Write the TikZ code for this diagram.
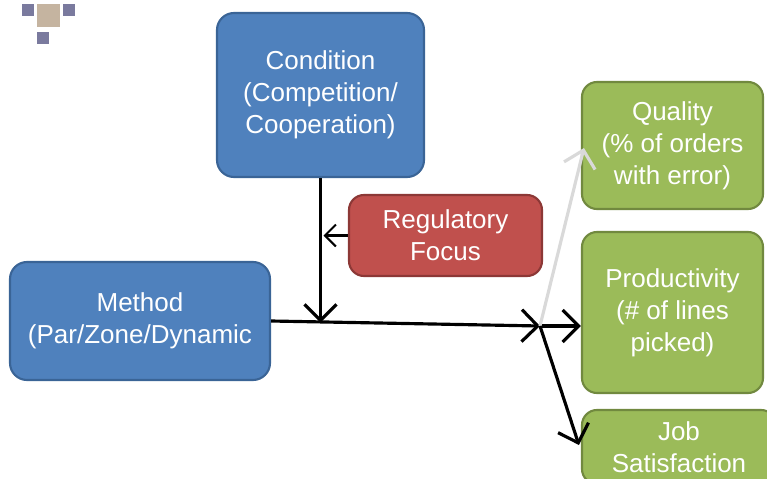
\documentclass[tikz,border=0pt]{standalone}
\usepackage{fontspec}
\setmainfont{Liberation Sans}
\usepackage{xcolor}
\usetikzlibrary{shapes,arrows.meta,positioning}

\definecolor{boxblue}{HTML}{4F81BD}
\definecolor{lineblue}{HTML}{3A6496}
\definecolor{boxred}{HTML}{C0504D}
\definecolor{linered}{HTML}{8C3836}
\definecolor{boxgreen}{HTML}{9BBB59}
\definecolor{linegreen}{HTML}{71893F}
\definecolor{dotpurple}{HTML}{7A7A9E}
\definecolor{dottan}{HTML}{C5B4A0}
\definecolor{arrowgray}{HTML}{D9D9D9}

\begin{document}
\begin{tikzpicture}[font=\fontsize{7.4}{9.1}\selectfont]
    % Define styles
    \tikzstyle{boxtext} = [align=center, inner sep=0pt, text=white, line width=0.6pt,
        execute at begin node={\rule{0pt}{1.6em}}]
    \tikzstyle{factor} = [rectangle, boxtext, rounded corners=0.17cm, draw=lineblue, fill=boxblue]
    \tikzstyle{moderator} = [rectangle, boxtext, rounded corners=0.15cm, draw=linered, fill=boxred]
    \tikzstyle{outcome} = [rectangle, boxtext, rounded corners=0.15cm, draw=linegreen, fill=boxgreen]
    \tikzstyle{arrow} = [line width=0.9pt, -{Straight Barb[length=1.6mm, width=3.2mm, line width=0.9pt]}]
    \tikzstyle{thinarrow} = [line width=0.6pt, -{Straight Barb[length=1.1mm, width=2.2mm, line width=0.6pt]}]
    \tikzstyle{dot} = [rectangle, inner sep=0pt, minimum size=0.12cm]

    \clip (0,0) rectangle (7.67,-4.79);

    % Corner mark
    \node [dot, fill=dotpurple] (dota) at (0.28,-0.095) {};
    \node [dot, fill=dottan, minimum size=0.23cm] (dotb) at (0.485,-0.15) {};
    \node [dot, fill=dotpurple] (dotc) at (0.69,-0.095) {};
    \node [dot, fill=dotpurple] (dotd) at (0.43,-0.375) {};

    % Main boxes
    \node [factor, minimum width=2.07cm, minimum height=1.64cm] (cond) at (3.205,-0.95) {Condition\\(Competition/\\Cooperation)};
    \node [moderator, minimum width=1.93cm, minimum height=0.81cm] (reg) at (4.455,-2.355) {Regulatory\\Focus};
    \node [factor, minimum width=2.60cm, minimum height=1.18cm] (method) at (1.40,-3.21) {Method\\(Par/Zone/Dynamic};

    % Outcomes
    \node [outcome, minimum width=1.81cm, minimum height=1.27cm] (quality) at (6.725,-1.455) {Quality\\(\% of orders\\with error)};
    \node [outcome, minimum width=1.81cm, minimum height=1.61cm] (prod) at (6.725,-3.125) {Productivity\\(\# of lines\\picked)};
    \node [outcome, minimum width=1.94cm, minimum height=0.74cm] (job) at (6.79,-4.47) {Job\\Satisfaction};

    % Junction points
    \coordinate (jn) at (5.40,-3.26);
    \coordinate (meet) at (3.205,-3.225);

    % Arrows
    \draw [arrow] (cond.south) -- (meet);
    \draw [thinarrow] (reg.west) -- ([xshift=0.03cm]cond.south |- reg.west);
    \draw [arrow] (method.east |- 0,-3.21) -- (jn);
    \draw [arrow] (jn) -- (prod.west |- jn);
    \draw [arrow, draw=arrowgray, -{Straight Barb[length=1.6mm, width=3.2mm, line width=0.9pt, color=arrowgray]}] (jn) -- ([xshift=0.03cm]quality.west |- 0,-1.48);
    \draw [arrow] (jn) -- ([xshift=-0.02cm]job.west |- 0,-4.45);
\end{tikzpicture}
\end{document}
